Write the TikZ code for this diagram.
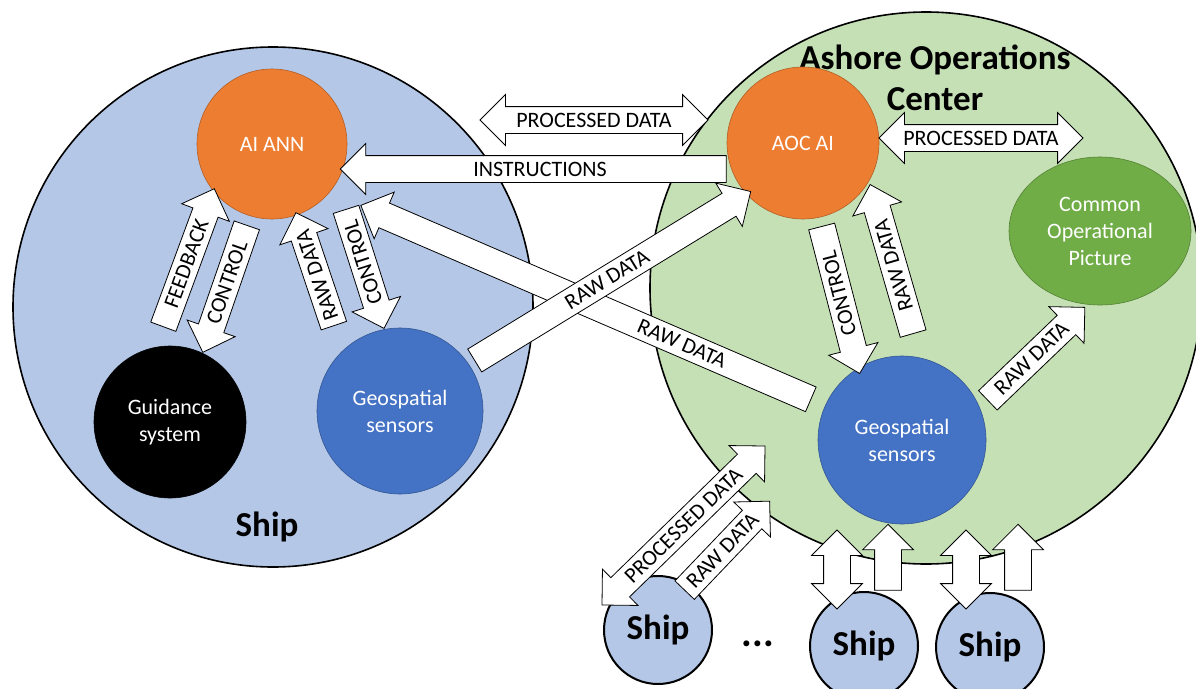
\documentclass[tikz,border=0pt]{standalone}
\usepackage{fontspec}
\setmainfont{Carlito}
\usetikzlibrary{shapes.arrows, shapes.geometric, calc}

\definecolor{shipblue}{HTML}{B4C7E7}
\definecolor{aocgreen}{HTML}{C5E0B4}
\definecolor{aiorange}{HTML}{ED7D31}
\definecolor{sensblue}{HTML}{4472C4}
\definecolor{copgreen}{HTML}{70AD47}

\tikzset{
  unit/.style={circle, line width=0.6pt, text=white, align=center,
    inner sep=0pt, font=\fontsize{22}{27}\selectfont},
  flow/.style={draw=black, line width=0.8pt, fill=white,
    font=\fontsize{22}{26}\selectfont, text height=14pt, text depth=0pt,
    inner ysep=6pt, inner xsep=3pt},
  oneway/.style={flow, single arrow, single arrow head extend=12pt},
  twoway/.style={flow, double arrow, double arrow head extend=12pt},
  bigtitle/.style={font=\fontsize{35}{41}\selectfont\bfseries, align=center},
  smallship/.style={circle, fill=shipblue, draw=black, line width=2pt,
    minimum size=108pt, inner sep=0pt, font=\fontsize{35}{41}\selectfont\bfseries},
}

% block arrow between two named points, text reads upwards
\newcommand\flowarrow[4][oneway]{%
  \path let \p1=(#2), \p2=(#3),
    \n1={atan2(\y2-\y1,\x2-\x1)},
    \n2={veclen(\x2-\x1,\y2-\y1)},
    \n3={ifthenelse(or(\n1>120,\n1<-60),180,0)} in
    node[#1, rotate=\n1-\n3, shape border rotate=\n3, minimum height=\n2]
      at ($(#2)!0.5!(#3)$) {#4};}

\begin{document}
\begin{tikzpicture}[x=1pt, y=-1pt]
\useasboundingbox (0,0) rectangle (1196,688);
\clip (0,0) rectangle (1196,688);

% Ship and ashore center
\node[circle, fill=shipblue, draw=black, line width=1.6pt, minimum size=520pt] (ship) at (273,307) {};
\node[circle, fill=aocgreen, draw=black, line width=1.6pt, minimum size=552pt] (aoc) at (926,288) {};

\node[bigtitle] (shiplbl) at (267,527) {Ship};
\node[bigtitle] (aoclbl) at (935,78) {Ashore Operations\\Center};

% Units on the ship
\node[unit, fill=aiorange, draw=aiorange!75!black, minimum size=150pt] (ann) at (272,144) {AI ANN};
\node[unit, fill=black, draw=black, minimum size=152pt] (guid) at (170,422) {Guidance\\system};
\node[unit, fill=sensblue, draw=sensblue!75!black, minimum size=166pt] (geoL) at (400,411) {Geospatial\\sensors};

% Units ashore
\node[unit, fill=aiorange, draw=aiorange!75!black, minimum size=152pt] (aocai) at (803,143) {AOC AI};
\node[unit, ellipse, fill=copgreen, draw=copgreen!75!black, minimum width=182pt, minimum height=148pt] (cop) at (1100,231) {Common\\Operational\\Picture};
\node[unit, fill=sensblue, draw=sensblue!75!black, minimum size=168pt] (geoR) at (902,440) {Geospatial\\sensors};

% Other ships
\node[smallship] (s1) at (658,630) {Ship};
\node[smallship] (s2) at (864,646) {Ship};
\node[smallship] (s3) at (990,647) {Ship};
\node[font=\fontsize{40}{44}\selectfont\bfseries] (more) at (758,644) {...};

% Arrow end points
\coordinate (pdL) at (480,120);      % ship <-> ashore
\coordinate (pdR) at (708,120);
\coordinate (insA) at (733,169);     % instructions
\coordinate (insB) at (347,169);
\coordinate (copA) at (879,138);     % AOC AI <-> picture
\coordinate (copB) at (1083,138);
\coordinate (fbA) at (161,333);      % feedback
\coordinate (fbB) at (212,195);
\coordinate (cgA) at (249,219);      % control guidance
\coordinate (cgB) at (205,346);
\coordinate (rlA) at (336,332);      % raw data left
\coordinate (rlB) at (298,219);
\coordinate (csA) at (344,203);      % control sensors
\coordinate (csB) at (382,322);
\coordinate (rxA) at (469,364);      % raw data to AOC AI
\coordinate (rxB) at (745,195);
\coordinate (ryA) at (817,402);      % raw data to AI ANN
\coordinate (ryB) at (367,208);
\coordinate (crA) at (820,220);      % control ashore sensors
\coordinate (crB) at (858,367);
\coordinate (rrA) at (915,340);      % raw data ashore
\coordinate (rrB) at (872,191);
\coordinate (rcA) at (983,405);      % raw data to picture
\coordinate (rcB) at (1080,312);
\coordinate (pbA) at (602,605);      % ship 1
\coordinate (pbB) at (765,446);
\coordinate (rbA) at (680,595);
\coordinate (rbB) at (765,506);
\coordinate (s2dA) at (837,609);     % ship 2
\coordinate (s2dB) at (837,530);
\coordinate (s2uA) at (888,597);
\coordinate (s2uB) at (888,531);
\coordinate (s3dA) at (966,609);     % ship 3
\coordinate (s3dB) at (966,530);
\coordinate (s3uA) at (1018,597);
\coordinate (s3uB) at (1018,531);

% Block arrows
\flowarrow[twoway]{pdL}{pdR}{PROCESSED DATA}
\flowarrow{insA}{insB}{INSTRUCTIONS}
\flowarrow[twoway]{copA}{copB}{PROCESSED DATA}
\flowarrow{fbA}{fbB}{FEEDBACK}
\flowarrow{cgA}{cgB}{CONTROL}
\flowarrow{rlA}{rlB}{RAW DATA}
\flowarrow{csA}{csB}{CONTROL}
\flowarrow{ryA}{ryB}{\hspace*{196pt}RAW DATA}
\flowarrow{rxA}{rxB}{RAW DATA}
\flowarrow{crA}{crB}{CONTROL}
\flowarrow{rrA}{rrB}{RAW DATA}
\flowarrow{rcA}{rcB}{RAW DATA}
\flowarrow[twoway]{pbA}{pbB}{PROCESSED DATA}
\flowarrow{rbA}{rbB}{RAW DATA}
\flowarrow[twoway]{s2dA}{s2dB}{}
\flowarrow{s2uA}{s2uB}{}
\flowarrow[twoway]{s3dA}{s3dB}{}
\flowarrow{s3uA}{s3uB}{}

\end{tikzpicture}
\end{document}
